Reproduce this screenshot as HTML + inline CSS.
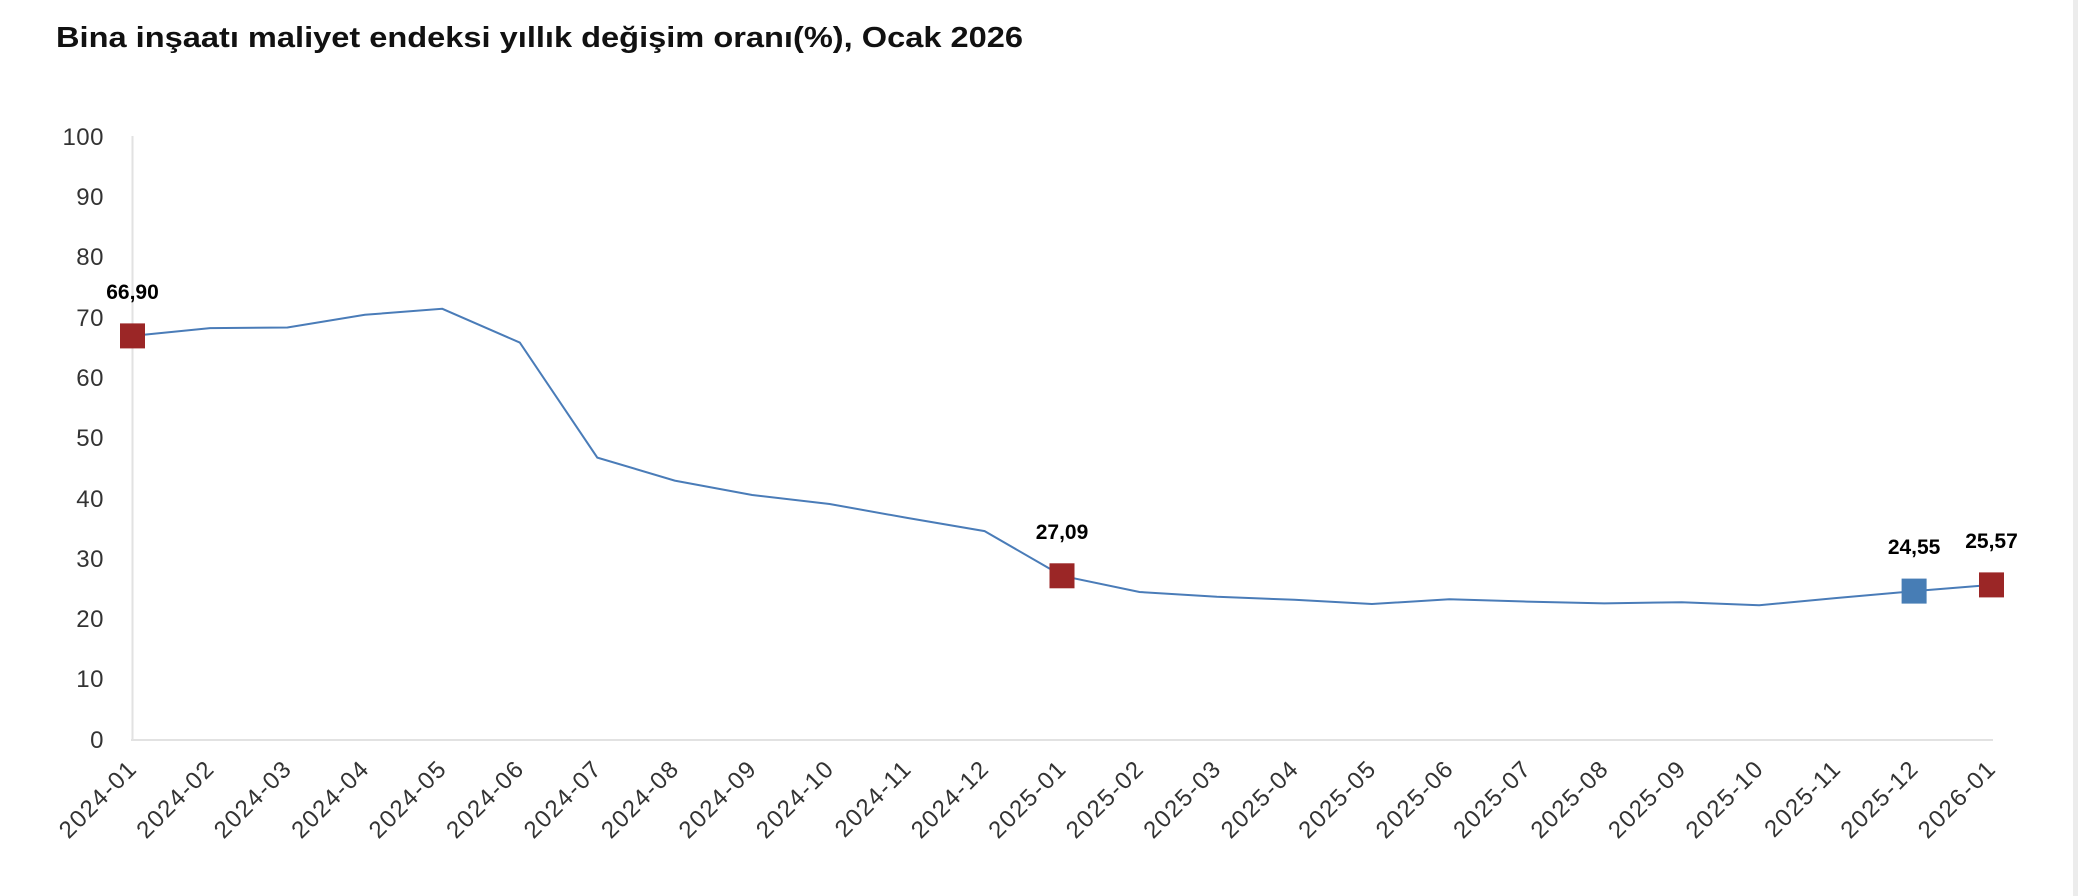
<!DOCTYPE html>
<html><head><meta charset="utf-8"><style>
html,body{margin:0;padding:0;background:#fff;}
svg{display:block;}
</style></head><body>
<svg width="2078" height="896" viewBox="0 0 2078 896" xmlns="http://www.w3.org/2000/svg" font-family="Liberation Sans, sans-serif">
<rect x="0" y="0" width="2078" height="896" fill="#fff"/>
<rect x="2073" y="0" width="5" height="896" fill="#ececec"/>
<text x="56" y="47" font-size="29" font-weight="bold" fill="#111" textLength="967" lengthAdjust="spacingAndGlyphs">Bina inşaatı maliyet endeksi yıllık değişim oranı(%), Ocak 2026</text>
<line x1="132.5" y1="136" x2="132.5" y2="740" stroke="#e2e2e2" stroke-width="2"/>
<line x1="131" y1="740" x2="1993" y2="740" stroke="#e2e2e2" stroke-width="2"/>
<g font-size="24" fill="#333" text-anchor="end" letter-spacing="0.5">
<text x="104" y="145">100</text><text x="104" y="205">90</text><text x="104" y="265">80</text><text x="104" y="326">70</text><text x="104" y="386">60</text><text x="104" y="446">50</text><text x="104" y="507">40</text><text x="104" y="567">30</text><text x="104" y="627">20</text><text x="104" y="687">10</text><text x="104" y="748">0</text>
</g>
<g font-size="24" fill="#333" text-anchor="end" letter-spacing="1.5">
<text transform="translate(138.5,770) rotate(-45)">2024-01</text>
<text transform="translate(216,770) rotate(-45)">2024-02</text>
<text transform="translate(293.4,770) rotate(-45)">2024-03</text>
<text transform="translate(370.9,770) rotate(-45)">2024-04</text>
<text transform="translate(448.3,770) rotate(-45)">2024-05</text>
<text transform="translate(525.8,770) rotate(-45)">2024-06</text>
<text transform="translate(603.3,770) rotate(-45)">2024-07</text>
<text transform="translate(680.7,770) rotate(-45)">2024-08</text>
<text transform="translate(758.2,770) rotate(-45)">2024-09</text>
<text transform="translate(835.6,770) rotate(-45)">2024-10</text>
<text transform="translate(913.1,770) rotate(-45)">2024-11</text>
<text transform="translate(990.6,770) rotate(-45)">2024-12</text>
<text transform="translate(1068,770) rotate(-45)">2025-01</text>
<text transform="translate(1145.5,770) rotate(-45)">2025-02</text>
<text transform="translate(1222.9,770) rotate(-45)">2025-03</text>
<text transform="translate(1300.4,770) rotate(-45)">2025-04</text>
<text transform="translate(1377.9,770) rotate(-45)">2025-05</text>
<text transform="translate(1455.3,770) rotate(-45)">2025-06</text>
<text transform="translate(1532.8,770) rotate(-45)">2025-07</text>
<text transform="translate(1610.2,770) rotate(-45)">2025-08</text>
<text transform="translate(1687.7,770) rotate(-45)">2025-09</text>
<text transform="translate(1765.2,770) rotate(-45)">2025-10</text>
<text transform="translate(1842.6,770) rotate(-45)">2025-11</text>
<text transform="translate(1920.1,770) rotate(-45)">2025-12</text>
<text transform="translate(1997.5,770) rotate(-45)">2026-01</text>
</g>
<polyline fill="none" stroke="#4a7cb8" stroke-width="2" points="132.5,335.9 210,328.1 287.4,327.5 364.9,314.8 442.3,308.8 519.8,342.6 597.3,457.6 674.7,480.6 752.2,495 829.6,504 907.1,517.9 984.6,531.1 1062,575.8 1139.5,592 1216.9,596.8 1294.4,599.8 1371.9,604 1449.3,599.2 1526.8,601.6 1604.2,603.4 1681.7,602.2 1759.2,605.2 1836.6,598 1914.1,591.1 1991.5,584.9"/>
<rect x="120" y="323.4" width="25" height="25" fill="#9b2626"/>
<text x="132.5" y="299" font-size="21" font-weight="bold" text-anchor="middle" fill="#000">66,90</text>
<rect x="1049.5" y="563.3" width="25" height="25" fill="#9b2626"/>
<text x="1062" y="539" font-size="21" font-weight="bold" text-anchor="middle" fill="#000">27,09</text>
<rect x="1901.6" y="578.6" width="25" height="25" fill="#477db5"/>
<text x="1914.1" y="554" font-size="21" font-weight="bold" text-anchor="middle" fill="#000">24,55</text>
<rect x="1979" y="572.4" width="25" height="25" fill="#9b2626"/>
<text x="1991.5" y="548" font-size="21" font-weight="bold" text-anchor="middle" fill="#000">25,57</text>
</svg>
</body></html>
